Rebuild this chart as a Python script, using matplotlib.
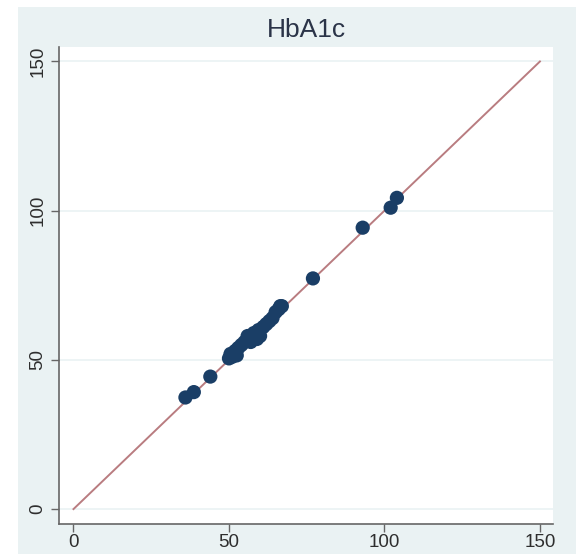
import matplotlib
matplotlib.use("Agg")
import matplotlib.pyplot as plt
from matplotlib.patches import Rectangle

title = "HbA1c"
x_vals = [36.0, 38.7, 44.0, 50.0, 50.5, 51.0, 52.0, 52.5, 53.0, 54.0, 55.0, 56.0,
          57.0, 57.5, 58.0, 59.0, 59.5, 60.0, 61.0, 62.0, 63.0, 64.0, 65.0, 66.0,
          66.5, 67.0, 77.0, 93.0, 102.0, 104.0]
y_vals = [37.4, 39.2, 44.4, 50.5, 52.0, 51.0, 53.0, 51.5, 54.0, 55.0, 56.0, 58.0,
          56.0, 57.5, 59.0, 57.0, 60.0, 58.0, 61.0, 62.0, 63.0, 64.0, 66.0, 67.0,
          68.0, 68.0, 77.3, 94.3, 101.0, 104.3]
line_x = [0, 150]
line_y = [0, 150]
ticks = [0, 50, 100, 150]

plt.rcParams['font.family'] = ['Liberation Sans', 'DejaVu Sans']

fig = plt.figure(figsize=(5.76, 5.54), dpi=100, facecolor='white')
bg = "#eaf2f3"
fig.patches.append(Rectangle((18/576, 0), 1 - 18/576, (554 - 7)/554,
                             transform=fig.transFigure, facecolor=bg,
                             edgecolor='none', zorder=-10))

ax = fig.add_axes([59/576, (554 - 524)/554, (553 - 59)/576, (524 - 47)/554])
ax.set_zorder(5)
ax.set_facecolor('white')
ax.set_xlim(-4.66, 154.2)
ax.set_ylim(-5.0, 154.85)

for t in ticks:
    ax.axhline(t, color=bg, lw=1.2, zorder=1)

ax.plot(line_x, line_y, color='#b97c80', lw=1.4, zorder=2)
ax.scatter(x_vals, y_vals, s=105, color='#1a3e66', edgecolors='none', zorder=3)

ax.set_xticks(ticks)
ax.set_yticks(ticks)
ax.set_xticklabels([str(t) for t in ticks], fontsize=13.5, color='#2e2e2e')
ax.set_yticklabels([str(t) for t in ticks], fontsize=13.5, color='#2e2e2e',
                   rotation=90, va='center')
ax.tick_params(axis='x', direction='out', length=6, width=1, color='#666666', pad=1)
ax.tick_params(axis='y', direction='out', length=6, width=1, color='#666666', pad=3)

for s in ['top', 'right']:
    ax.spines[s].set_visible(False)
for s in ['left', 'bottom']:
    ax.spines[s].set_color('#666666')
    ax.spines[s].set_linewidth(1.2)

fig.text((59 + 553) / 2 / 576, 1 - 30/554, title, ha='center', va='center',
         fontsize=19, color='#2b3448')

fig.savefig('out.png', dpi=100, facecolor=fig.get_facecolor())
